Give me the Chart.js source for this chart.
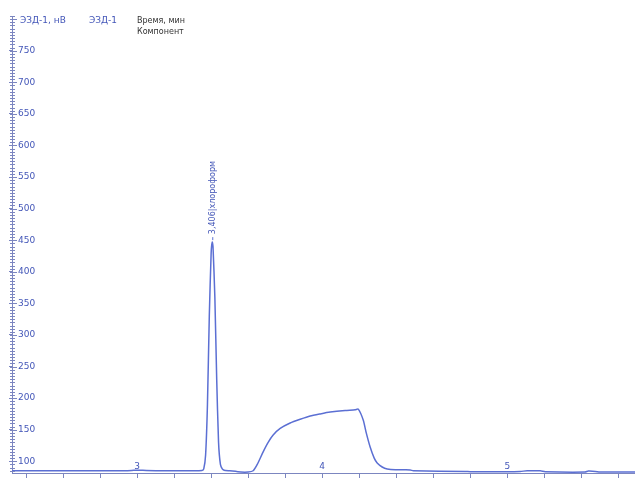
<!DOCTYPE html>
<html>
<head>
<meta charset="utf-8">
<script src="https://cdn.jsdelivr.net/npm/chart.js@4"></script>
<style>
    html, body { margin: 0; padding: 0; background: #fff; overflow: hidden; }
    canvas { display: block; }
</style>
</head>
<body>
<canvas id="chart" width="635" height="479"></canvas>
<script>
    // Retention time, min
    const times = [
        2.324, 2.6, 2.9, 2.97, 3.0, 3.05, 3.15, 3.3, 3.35,
        3.36, 3.37, 3.38, 3.39, 3.40, 3.406, 3.41, 3.42, 3.43, 3.44, 3.45, 3.46, 3.47,
        3.5, 3.56, 3.6, 3.627,
        3.649, 3.681, 3.708, 3.735, 3.773, 3.827, 3.881, 3.935, 3.989, 4.043, 4.124, 4.178, 4.195,
        4.222, 4.238, 4.259, 4.281, 4.297, 4.324, 4.351, 4.395, 4.476,
        4.492, 4.773, 4.8, 5.0, 5.07, 5.108, 5.178, 5.205, 5.42, 5.438, 5.476, 5.5, 5.69
    ];

    // Detector signal, mV
    const signal = [
        85, 85, 85, 85.5, 86, 85.5, 85, 85, 85.5,
        88, 110, 190, 330, 430, 447, 440, 360, 230, 130, 95, 88, 86,
        85, 83, 83, 85,
        95, 115, 130, 141.6, 152, 160.6, 166.5, 171.7, 175, 177.9, 180.5, 181.5, 182.6,
        165, 145, 122.6, 105, 97.3, 91, 87.8, 86.5, 86.4,
        85, 84, 83.5, 83.5, 84, 85, 85, 83.5, 83, 84.5, 84, 83, 83
    ];

    // Axis ranges and tick labels
    const xRange = [2.324, 5.69];
    const yRange = [81.5, 805];
    const xTicks = [2.4, 2.6, 2.8, 3, 3.2, 3.4, 3.6, 3.8, 4, 4.2, 4.4, 4.6, 4.8, 5, 5.2, 5.4, 5.6];
    const xLabels = [3, 4, 5];
    const yTicks = [100, 150, 200, 250, 300, 350, 400, 450, 500, 550, 600, 650, 700, 750];
    const yMinorStep = 5;

    const peakTime = 3.406;
    const peakLabel = '3,406|хлороформ';

    const BLUE = '#4356b8';
    const LINE = '#5b6fd3';
    const AXIS = '#7c86c0';
    const FONT = '"DejaVu Sans", sans-serif';

    // Axes sit flush with the plot; drop the room Chart.js keeps for edge labels
    const noEdgePadding = scale => {
        scale.paddingTop = 0;
        scale.paddingBottom = 0;
        scale.paddingLeft = 0;
        scale.paddingRight = 0;
    };

    // Minor ticks on the signal axis, header texts and peak annotation
    const decorations = {
        id: 'decorations',
        afterDraw(chart) {
            const ctx = chart.ctx;
            const y = chart.scales.y;
            const x = chart.scales.x;
            const left = chart.chartArea.left;

            ctx.save();
            ctx.strokeStyle = AXIS;
            ctx.lineWidth = 1;
            for (let v = Math.ceil(yRange[0] / yMinorStep) * yMinorStep; v <= yRange[1]; v += yMinorStep) {
                const py = Math.round(y.getPixelForValue(v)) + 0.5;
                const len = v % 50 === 0 ? 5 : 3;
                ctx.beginPath();
                ctx.moveTo(left - 2, py);
                ctx.lineTo(left + len, py);
                ctx.stroke();
            }

            ctx.font = '9px ' + FONT;
            ctx.textBaseline = 'middle';
            ctx.textAlign = 'left';
            ctx.fillStyle = BLUE;
            ctx.fillText('ЭЗД-1, нВ', 20, 21);
            ctx.fillText('ЭЗД-1', 89, 21);
            ctx.fillStyle = '#333';
            ctx.font = '8px ' + FONT;
            ctx.fillText('Время, мин', 137, 21);
            ctx.fillText('Компонент', 137, 32);

            // Peak name, written bottom to top above the apex
            const i = times.indexOf(peakTime);
            const px = x.getPixelForValue(peakTime);
            const py = y.getPixelForValue(signal[i]);
            ctx.strokeStyle = LINE;
            ctx.beginPath();
            ctx.moveTo(px + 0.5, py - 2);
            ctx.lineTo(px + 0.5, py - 5);
            ctx.stroke();
            ctx.translate(px + 1, py - 8);
            ctx.rotate(-Math.PI / 2);
            ctx.fillStyle = BLUE;
            ctx.font = '8px ' + FONT;
            ctx.textAlign = 'left';
            ctx.fillText(peakLabel, 0, 0);
            ctx.restore();
        }
    };

    new Chart(document.getElementById('chart'), {
        type: 'line',
        data: {
            datasets: [{
                data: times.map((t, i) => ({ x: t, y: signal[i] })),
                borderColor: LINE,
                borderWidth: 1.5,
                pointRadius: 0,
                tension: 0.2,
                fill: false
            }]
        },
        options: {
            responsive: false,
            animation: false,
            layout: { padding: { left: 9, right: 0, top: 16, bottom: 1 } },
            plugins: { legend: { display: false }, tooltip: { enabled: false } },
            scales: {
                x: {
                    type: 'linear',
                    min: xRange[0],
                    max: xRange[1],
                    afterBuildTicks: scale => { scale.ticks = xTicks.map(value => ({ value })); },
                    afterFit: scale => { scale.height = 5; noEdgePadding(scale); },
                    grid: { drawOnChartArea: false, tickLength: 5, color: AXIS },
                    border: { color: AXIS },
                    ticks: {
                        autoSkip: false,
                        mirror: true,
                        padding: 1,
                        maxRotation: 0,
                        color: BLUE,
                        font: { family: FONT, size: 9 },
                        callback: v => xLabels.includes(Math.round(v * 10) / 10) ? String(Math.round(v)) : ''
                    }
                },
                y: {
                    min: yRange[0],
                    max: yRange[1],
                    afterBuildTicks: scale => { scale.ticks = yTicks.map(value => ({ value })); },
                    afterFit: scale => { scale.width = 3; noEdgePadding(scale); },
                    grid: { drawOnChartArea: false, drawTicks: true, tickLength: 3, color: AXIS },
                    border: { color: AXIS },
                    ticks: {
                        autoSkip: false,
                        mirror: true,
                        padding: 6,
                        color: BLUE,
                        font: { family: FONT, size: 9 },
                        callback: v => String(v)
                    }
                }
            }
        },
        plugins: [decorations]
    });
</script>
</body>
</html>
